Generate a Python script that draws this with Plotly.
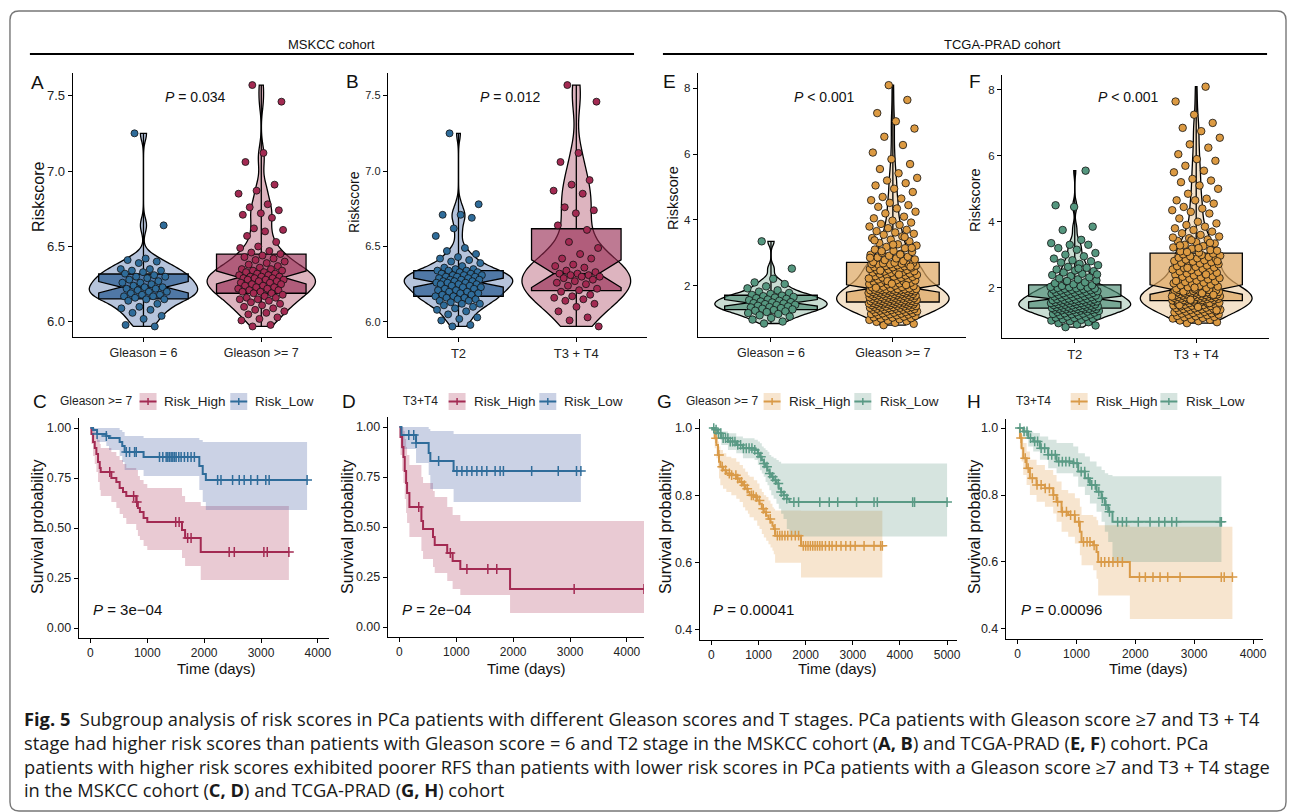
import numpy as np
import plotly.graph_objects as go

W, H = 1292, 812
FONT = "Liberation Sans, Arial, sans-serif"

# ------------------------------------------------------------------ data
# --- violin / box panels (risk scores) ---
A_cats = ["Gleason = 6", "Gleason >= 7"]
B_cats = ["T2", "T3 + T4"]
E_cats = ["Gleason = 6", "Gleason >= 7"]
F_cats = ["T2", "T3 + T4"]

A_low = [7.25, 6.64, 6.42, 6.41, 6.40, 6.39, 6.35, 6.35, 6.34, 6.34, 6.33, 6.32, 6.31, 6.30, 6.30, 6.29,
         6.28, 6.27, 6.26, 6.26, 6.25, 6.24, 6.23, 6.23, 6.22, 6.22, 6.21, 6.20, 6.20, 6.19, 6.18, 6.18,
         6.17, 6.17, 6.16, 6.15, 6.15, 6.14, 6.12, 6.10, 6.09, 6.08, 6.06, 6.04, 6.02, 5.98, 5.97]
A_high = [7.57, 7.46, 7.12, 7.06, 6.91, 6.87, 6.85, 6.78, 6.76, 6.74, 6.72, 6.71, 6.69, 6.62, 6.61, 6.60,
          6.57, 6.53, 6.50, 6.49, 6.47, 6.46, 6.45, 6.44, 6.43, 6.42, 6.41, 6.40, 6.39, 6.38, 6.37, 6.36,
          6.35, 6.35, 6.34, 6.34, 6.33, 6.33, 6.32, 6.32, 6.31, 6.31, 6.30, 6.30, 6.30, 6.29, 6.29, 6.29,
          6.28, 6.28, 6.28, 6.27, 6.27, 6.26, 6.26, 6.25, 6.25, 6.24, 6.24, 6.23, 6.23, 6.22, 6.22, 6.21,
          6.21, 6.20, 6.20, 6.19, 6.19, 6.18, 6.17, 6.16, 6.16, 6.15, 6.15, 6.14, 6.13, 6.12, 6.11, 6.10,
          6.09, 6.08, 6.07, 6.06, 6.05, 6.03, 6.02, 6.01, 5.98, 5.97]
B_low = [7.25, 6.78, 6.71, 6.71, 6.69, 6.62, 6.57, 6.49, 6.47, 6.45, 6.43, 6.42, 6.41, 6.40, 6.39, 6.37,
         6.36, 6.35, 6.35, 6.34, 6.34, 6.34, 6.33, 6.33, 6.32, 6.32, 6.31, 6.31, 6.31, 6.30, 6.30, 6.30,
         6.29, 6.29, 6.28, 6.28, 6.28, 6.27, 6.27, 6.27, 6.26, 6.26, 6.26, 6.25, 6.25, 6.25, 6.24, 6.24,
         6.23, 6.23, 6.22, 6.22, 6.21, 6.21, 6.20, 6.20, 6.19, 6.19, 6.18, 6.18, 6.17, 6.17, 6.16, 6.16,
         6.15, 6.15, 6.14, 6.14, 6.13, 6.12, 6.12, 6.11, 6.10, 6.09, 6.08, 6.07, 6.05, 6.03, 6.02, 6.01,
         5.98, 5.97]
B_high = [7.57, 7.46, 7.12, 7.06, 6.94, 6.91, 6.87, 6.85, 6.76, 6.74, 6.72, 6.64, 6.61, 6.53, 6.49, 6.45,
          6.42, 6.42, 6.38, 6.37, 6.36, 6.34, 6.33, 6.32, 6.32, 6.31, 6.31, 6.30, 6.30, 6.29, 6.28, 6.27,
          6.26, 6.25, 6.24, 6.22, 6.21, 6.20, 6.18, 6.17, 6.16, 6.15, 6.14, 6.12, 6.10, 6.07, 6.03, 6.01,
          5.97]
E_low = [3.35, 2.52, 2.21, 2.10, 2.05, 1.98, 1.92, 1.86, 1.82, 1.78, 1.75, 1.72, 1.70, 1.68, 1.66, 1.64,
         1.62, 1.60, 1.58, 1.56, 1.54, 1.52, 1.50, 1.49, 1.47, 1.46, 1.44, 1.42, 1.41, 1.39, 1.37, 1.35,
         1.34, 1.32, 1.30, 1.28, 1.26, 1.24, 1.22, 1.20, 1.17, 1.14, 1.10, 1.06, 1.02, 0.97, 0.91, 0.85]
E_high = [0.80, 0.84, 0.87, 0.90, 0.92, 0.94, 0.96, 0.98, 1.00, 1.01, 1.03, 1.04, 1.06, 1.07, 1.08, 1.10,
          1.11, 1.12, 1.13, 1.14, 1.15, 1.16, 1.17, 1.18, 1.19, 1.20, 1.21, 1.22, 1.23, 1.24, 1.25, 1.26,
          1.27, 1.27, 1.28, 1.29, 1.30, 1.30, 1.31, 1.32, 1.33, 1.33, 1.34, 1.35, 1.35, 1.36, 1.37, 1.37,
          1.38, 1.39, 1.39, 1.40, 1.41, 1.41, 1.42, 1.43, 1.43, 1.44, 1.44, 1.45, 1.45, 1.46, 1.46, 1.47,
          1.47, 1.48, 1.48, 1.49, 1.49, 1.50,
          1.51, 1.51, 1.52, 1.52, 1.53, 1.53, 1.54, 1.54, 1.55, 1.55, 1.56, 1.57, 1.57, 1.58, 1.58, 1.59,
          1.60, 1.60, 1.61, 1.61, 1.62, 1.63, 1.63, 1.64, 1.64, 1.65, 1.66, 1.66, 1.67, 1.67, 1.68, 1.69,
          1.69, 1.70, 1.71, 1.71, 1.72, 1.72, 1.73, 1.74, 1.74, 1.75, 1.75, 1.76, 1.77, 1.77, 1.78, 1.78,
          1.79, 1.80, 1.80, 1.81, 1.81, 1.82, 1.83, 1.83, 1.84, 1.84, 1.85, 1.86, 1.86, 1.87, 1.87, 1.88,
          1.88, 1.89, 1.89, 1.90, 1.90, 1.91,
          1.92, 1.93, 1.95, 1.96, 1.97, 1.99, 2.00, 2.01, 2.03, 2.04, 2.05, 2.07, 2.08, 2.09, 2.11, 2.12,
          2.13, 2.15, 2.16, 2.17, 2.19, 2.20, 2.21, 2.23, 2.24, 2.25, 2.27, 2.28, 2.29, 2.31, 2.32, 2.33,
          2.35, 2.36, 2.37, 2.39, 2.40, 2.41, 2.43, 2.44, 2.45, 2.47, 2.48, 2.49, 2.51, 2.52, 2.53, 2.55,
          2.56, 2.57, 2.59, 2.60, 2.61, 2.62, 2.63, 2.64, 2.65, 2.66, 2.67, 2.68, 2.69, 2.70, 1.94, 2.02,
          2.14, 2.22, 2.34, 2.46, 2.58, 2.06,
          2.72, 2.75, 2.78, 2.80, 2.83, 2.86, 2.88, 2.91, 2.94, 2.97, 3.00, 3.03, 3.06, 3.10, 3.14, 3.18,
          3.22, 3.26, 3.30, 3.35, 3.40, 3.45, 3.50, 3.55, 3.58, 3.62, 3.66, 3.70, 3.75, 3.80, 3.85, 3.88,
          3.92, 3.98, 4.05, 4.10, 4.20, 4.25, 4.35, 4.40, 4.45, 4.52, 4.60, 4.65, 4.70, 4.85, 4.95, 5.05,
          5.12, 5.20, 5.28, 5.42, 5.55, 5.70, 5.85, 6.05, 6.28, 6.53, 6.78, 7.00, 7.25, 7.65, 8.10, 2.85,
          2.95, 3.05, 3.15, 3.25, 3.38, 3.48]
F_low = [0.80, 0.85, 0.88, 0.92, 0.95, 0.98, 1.00, 1.02, 1.04, 1.06, 1.08, 1.09, 1.11, 1.12, 1.14, 1.15,
         1.16, 1.18, 1.19, 1.20, 1.21, 1.22, 1.24, 1.25, 1.26, 1.27, 1.28, 1.29, 1.30, 1.31, 1.32, 1.32,
         1.33, 1.34, 1.34, 1.35, 1.35, 1.36, 1.36, 1.37,
         1.38, 1.38, 1.39, 1.40, 1.40, 1.41, 1.42, 1.42, 1.43, 1.44, 1.45, 1.45, 1.46, 1.47, 1.47, 1.48,
         1.49, 1.50, 1.50, 1.51, 1.52, 1.53, 1.53, 1.54, 1.55, 1.56, 1.56, 1.57, 1.58, 1.58, 1.59, 1.60,
         1.60, 1.61, 1.62, 1.62, 1.63, 1.64, 1.64, 1.65,
         1.66, 1.67, 1.68, 1.69, 1.70, 1.71, 1.72, 1.73, 1.74, 1.75, 1.76, 1.77, 1.78, 1.79, 1.80, 1.81,
         1.82, 1.83, 1.84, 1.85, 1.86, 1.87, 1.88, 1.89, 1.90, 1.91, 1.92, 1.93, 1.94, 1.95, 1.96, 1.97,
         1.98, 1.99, 2.00, 2.01, 2.02, 2.04, 2.05, 2.07,
         2.10, 2.13, 2.16, 2.19, 2.22, 2.25, 2.28, 2.31, 2.35, 2.38, 2.42, 2.46, 2.50, 2.52, 2.55, 2.60,
         2.63, 2.68, 2.72, 2.76, 2.80, 2.83, 2.88, 2.95, 3.00, 3.05, 3.15, 3.20, 3.30, 3.30, 3.35, 3.45,
         3.75, 3.85, 4.45, 4.50, 5.55, 2.20, 2.40, 2.58]
F_high = [0.92, 0.95, 0.98, 1.00, 1.02, 1.04, 1.06, 1.08, 1.10, 1.11, 1.13, 1.14, 1.16, 1.17, 1.18, 1.20,
          1.21, 1.22, 1.23, 1.25, 1.26, 1.27, 1.28, 1.29, 1.30, 1.31, 1.32, 1.33, 1.34, 1.35, 1.36, 1.37,
          1.38, 1.39, 1.40, 1.41, 1.42, 1.43, 1.44, 1.45, 1.46, 1.47, 1.48, 1.49, 1.50, 1.51, 1.52, 1.53,
          1.54, 1.55, 1.56, 1.57, 1.58, 1.59, 1.59, 1.60, 1.31, 1.41, 1.47, 1.53,
          1.61, 1.61, 1.62, 1.62, 1.63, 1.64, 1.64, 1.65, 1.66, 1.66, 1.67, 1.67, 1.68, 1.69, 1.69, 1.70,
          1.71, 1.71, 1.72, 1.72, 1.73, 1.74, 1.74, 1.75, 1.76, 1.76, 1.77, 1.77, 1.78, 1.79, 1.79, 1.80,
          1.81, 1.81, 1.82, 1.82, 1.83, 1.84, 1.84, 1.85, 1.86, 1.86, 1.87, 1.87, 1.88, 1.89, 1.89, 1.90,
          1.90, 1.91, 1.91, 1.92, 1.92, 1.93, 1.93, 1.63, 1.73, 1.83, 1.88, 1.78,
          1.95, 1.97, 1.99, 2.01, 2.03, 2.05, 2.07, 2.09, 2.11, 2.13, 2.15, 2.17, 2.19, 2.21, 2.23, 2.25,
          2.27, 2.29, 2.31, 2.33, 2.35, 2.37, 2.39, 2.41, 2.43, 2.45, 2.47, 2.49, 2.51, 2.53, 2.55, 2.57,
          2.59, 2.61, 2.63, 2.65, 2.67, 2.69, 2.71, 2.73, 2.75, 2.77, 2.79, 2.81, 2.83, 2.85, 2.87, 2.89,
          2.91, 2.93, 2.95, 2.97, 2.99, 3.01, 3.03, 2.00, 2.20, 2.40, 2.60, 2.80,
          3.06, 3.10, 3.14, 3.18, 3.22, 3.26, 3.30, 3.34, 3.38, 3.42, 3.46, 3.50, 3.55, 3.60, 3.65, 3.70,
          3.75, 3.80, 3.85, 3.90, 3.95, 4.00, 4.10, 4.25, 4.30, 4.35, 4.40, 4.45, 4.55, 4.65, 4.65, 4.70,
          4.85, 5.00, 5.10, 5.20, 5.25, 5.30, 5.50, 5.55, 5.70, 5.85, 5.90, 6.05, 6.25, 6.35, 6.55, 6.75,
          6.85, 7.00, 7.25, 7.65, 8.10, 3.08, 3.12, 3.20, 3.28, 3.36, 3.44, 3.52]

A_p = "<i>P</i> = 0.034"
B_p = "<i>P</i> = 0.012"
E_p = "<i>P</i> < 0.001"
F_p = "<i>P</i> < 0.001"

# --- Kaplan-Meier panels: step times, survival, CI lower / upper, censor times (last = end of follow-up) ---
C_hi_t = [0, 18, 47, 76, 105, 134, 164, 181, 368, 456, 514, 573, 631, 806, 835, 870, 935, 1000, 1610, 1665, 1940]
C_hi_s = [1.0, 0.97, 0.93, 0.90, 0.87, 0.83, 0.80, 0.78, 0.75, 0.73, 0.70, 0.68, 0.66, 0.63, 0.60, 0.58, 0.55, 0.53, 0.49, 0.45, 0.38]
C_hi_lo = [1.0, 0.92, 0.86, 0.82, 0.78, 0.73, 0.69, 0.66, 0.63, 0.60, 0.57, 0.55, 0.52, 0.49, 0.46, 0.44, 0.41, 0.39, 0.35, 0.31, 0.24]
C_hi_up = [1.0, 1.0, 1.0, 0.98, 0.96, 0.94, 0.92, 0.90, 0.88, 0.86, 0.84, 0.82, 0.80, 0.79, 0.76, 0.74, 0.72, 0.70, 0.66, 0.63, 0.61]
C_hi_cens = [340, 760, 815, 1500, 1560, 1710, 1770, 2440, 2530, 3050, 3110, 3490]
C_lo_t = [0, 47, 117, 280, 327, 514, 560, 602, 935, 1915, 1975, 2030]
C_lo_s = [1.0, 0.99, 0.97, 0.96, 0.95, 0.93, 0.91, 0.88, 0.855, 0.81, 0.77, 0.74]
C_lo_lo = [1.0, 0.97, 0.93, 0.91, 0.89, 0.86, 0.83, 0.79, 0.76, 0.69, 0.63, 0.59]
C_lo_up = [1.0, 1.0, 1.0, 1.0, 1.0, 0.99, 0.98, 0.96, 0.95, 0.94, 0.93, 0.93]
C_lo_cens = [117, 280, 631, 689, 777, 806, 1215, 1273, 1332, 1361, 1390, 1420, 1449, 1478, 1507, 1554, 1595,
             1653, 1711, 1770, 1828, 2237, 2296, 2500, 2617, 2704, 2821, 2938, 3084, 3143, 3810]

D_hi_t = [0, 18, 47, 70, 93, 117, 134, 175, 386, 415, 590, 620, 840, 935, 1070, 1945]
D_hi_s = [1.0, 0.95, 0.90, 0.85, 0.78, 0.72, 0.67, 0.60, 0.53, 0.49, 0.45, 0.41, 0.37, 0.33, 0.29, 0.19]
D_hi_lo = [1.0, 0.86, 0.78, 0.72, 0.64, 0.57, 0.52, 0.45, 0.38, 0.34, 0.30, 0.27, 0.23, 0.19, 0.16, 0.07]
D_hi_up = [1.0, 1.0, 1.0, 0.98, 0.94, 0.90, 0.86, 0.81, 0.75, 0.72, 0.68, 0.65, 0.60, 0.56, 0.53, 0.53]
D_hi_cens = [339, 894, 1186, 1554, 1711, 3072, 4300]
D_lo_t = [0, 35, 292, 514, 543, 952]
D_lo_s = [1.0, 0.96, 0.92, 0.87, 0.83, 0.78]
D_lo_lo = [1.0, 0.89, 0.82, 0.76, 0.69, 0.625]
D_lo_up = [1.0, 1.0, 1.0, 0.99, 0.98, 0.965]
D_lo_cens = [164, 251, 292, 689, 1010, 1098, 1186, 1273, 1361, 1449, 1536, 1682, 1770, 1828, 2325, 2792, 3113, 3190]

G_hi_t = [0, 70, 106, 141, 162, 190, 246, 317, 423, 528, 599, 669, 718, 775, 810, 901, 972, 1021, 1070,
          1113, 1162, 1211, 1254, 1296, 1324, 1352, 1901]
G_hi_s = [1.0, 0.97, 0.95, 0.92, 0.90, 0.885, 0.875, 0.865, 0.86, 0.85, 0.84, 0.83, 0.82, 0.81, 0.80, 0.795,
          0.785, 0.775, 0.76, 0.75, 0.74, 0.73, 0.72, 0.71, 0.70, 0.68, 0.65]
G_hi_lo = [1.0, 0.94, 0.91, 0.88, 0.85, 0.83, 0.82, 0.81, 0.80, 0.79, 0.78, 0.765, 0.755, 0.745, 0.735, 0.725,
           0.71, 0.70, 0.685, 0.675, 0.665, 0.655, 0.645, 0.635, 0.625, 0.60, 0.556]
G_hi_up = [1.0, 0.99, 0.98, 0.96, 0.945, 0.935, 0.925, 0.915, 0.91, 0.90, 0.89, 0.88, 0.87, 0.86, 0.855, 0.845,
           0.835, 0.82, 0.81, 0.80, 0.795, 0.785, 0.775, 0.765, 0.76, 0.755, 0.754]
G_hi_cens = [100, 160, 230, 300, 380, 430, 520, 560, 640, 700, 760, 850, 890, 950, 1020, 1100, 1160, 1250, 1350,
             1400, 1450, 1500, 1560, 1620, 1700, 1780, 1850, 1950, 2000, 2050, 2100, 2150, 2200, 2250, 2300,
             2350, 2420, 2500, 2560, 2650, 2750, 2852, 2950, 3050, 3239, 3450, 3591, 3627]
G_lo_t = [0, 70, 141, 211, 352, 528, 669, 915, 986, 1030, 1070, 1110, 1150, 1190, 1230, 1270, 1320, 1380, 1430,
          1480, 1530, 1600, 1655]
G_lo_s = [1.0, 0.995, 0.985, 0.97, 0.96, 0.95, 0.94, 0.935, 0.925, 0.915, 0.905, 0.895, 0.885, 0.875, 0.865,
          0.855, 0.845, 0.835, 0.82, 0.81, 0.80, 0.79, 0.78]
G_lo_lo = [1.0, 0.985, 0.97, 0.95, 0.935, 0.925, 0.91, 0.905, 0.89, 0.875, 0.865, 0.855, 0.84, 0.83, 0.815,
           0.80, 0.79, 0.775, 0.76, 0.745, 0.73, 0.70, 0.678]
G_lo_up = [1.0, 1.0, 1.0, 0.99, 0.985, 0.975, 0.97, 0.965, 0.96, 0.955, 0.945, 0.94, 0.935, 0.93, 0.92, 0.915,
           0.91, 0.905, 0.90, 0.895, 0.895, 0.895, 0.895]
G_lo_cens = [50, 100, 150, 200, 250, 300, 350, 400, 450, 500, 560, 620, 680, 740, 800, 860, 920, 990, 1050, 1120,
             1180, 1240, 1300, 1360, 1420, 1480, 1540, 1600, 1750, 1850, 2300, 2500, 2680, 3080, 3450, 3520,
             4270, 4310, 5000]

H_hi_t = [0, 40, 68, 96, 153, 209, 322, 464, 605, 662, 747, 860, 973, 1058, 1086, 1284, 1341, 1369, 1907]
H_hi_s = [1.0, 0.97, 0.94, 0.91, 0.88, 0.85, 0.83, 0.82, 0.80, 0.78, 0.75, 0.74, 0.72, 0.69, 0.66, 0.65, 0.63, 0.60, 0.555]
H_hi_lo = [1.0, 0.94, 0.90, 0.86, 0.83, 0.80, 0.78, 0.765, 0.745, 0.72, 0.69, 0.675, 0.655, 0.62, 0.59, 0.575, 0.55, 0.50, 0.43]
H_hi_up = [1.0, 1.0, 0.98, 0.955, 0.93, 0.905, 0.89, 0.875, 0.86, 0.84, 0.815, 0.805, 0.79, 0.765, 0.74, 0.735, 0.725, 0.71, 0.705]
H_hi_cens = [60, 130, 180, 250, 330, 400, 470, 540, 610, 680, 760, 830, 900, 970, 1040, 1120, 1180, 1230, 1300,
             1420, 1480, 1550, 1620, 1700, 1780, 2070, 2170, 2300, 2420, 2550, 2760, 3460, 3510, 3649]
H_lo_t = [0, 96, 181, 266, 379, 520, 662, 945, 1030, 1143, 1228, 1341, 1426, 1482, 1539, 1612]
H_lo_s = [1.0, 0.99, 0.97, 0.96, 0.94, 0.92, 0.90, 0.895, 0.87, 0.85, 0.83, 0.81, 0.79, 0.77, 0.75, 0.72]
H_lo_lo = [1.0, 0.975, 0.945, 0.93, 0.905, 0.88, 0.865, 0.855, 0.825, 0.80, 0.775, 0.75, 0.72, 0.69, 0.66, 0.60]
H_lo_up = [1.0, 1.0, 0.99, 0.985, 0.975, 0.965, 0.955, 0.945, 0.925, 0.915, 0.90, 0.885, 0.875, 0.865, 0.86, 0.856]
H_lo_cens = [40, 110, 160, 220, 290, 340, 400, 460, 520, 580, 640, 700, 760, 820, 880, 950, 1010, 1080, 1140,
             1200, 1260, 1320, 1380, 1440, 1500, 1560, 1700, 1780, 1850, 2050, 2250, 2400, 2500, 2620, 2700,
             3440, 3462]

C_p = "<i>P</i> = 3e\u221204"
D_p = "<i>P</i> = 2e\u221204"
G_p = "<i>P</i> = 0.00041"
H_p = "<i>P</i> = 0.00096"
C_legend_title = "Gleason >= 7"
D_legend_title = "T3+T4"
G_legend_title = "Gleason >= 7"
H_legend_title = "T3+T4"
legend_labels = ["Risk_High", "Risk_Low"]
km_x_ticks = [0, 1000, 2000, 3000, 4000]
km_x_ticks_G = [0, 1000, 2000, 3000, 4000, 5000]

CAPTION = [
    "<b>Fig. 5</b>  Subgroup analysis of risk scores in PCa patients with different Gleason scores and T stages. PCa patients with Gleason score \u22657 and T3 + T4",
    "stage had higher risk scores than patients with Gleason score = 6 and T2 stage in the MSKCC cohort (<b>A, B</b>) and TCGA-PRAD (<b>E, F</b>) cohort. PCa",
    "patients with higher risk scores exhibited poorer RFS than patients with lower risk scores in PCa patients with a Gleason score \u22657 and T3 + T4 stage",
    "in the MSKCC cohort (<b>C, D</b>) and TCGA-PRAD (<b>G, H</b>) cohort",
]

# ------------------------------------------------------------------ styles
BLUE = dict(violin="#b6c4dc", box="rgba(40,90,145,0.72)", point="#2f6c9a", line="#2f6c9a",
            band="rgba(70,95,160,0.28)")
RED = dict(violin="#ddb4bf", box="rgba(150,40,80,0.62)", point="#a32a52", line="#a32a52",
           band="rgba(170,50,85,0.26)")
GREEN = dict(violin="#c9ddd3", box="rgba(75,140,115,0.65)", point="#55977f", line="#5a9a85",
             band="rgba(95,150,130,0.26)")
ORANGE = dict(violin="#f4e2ca", box="rgba(222,168,100,0.72)", point="#dc9a42", line="#d99a48",
              band="rgba(228,170,95,0.30)")


def px(x):
    return x / W


def py(y):
    return 1 - y / H


fig = go.Figure()
layout = dict(width=W, height=H, margin=dict(l=0, r=0, t=0, b=0), paper_bgcolor="white",
              plot_bgcolor="rgba(0,0,0,0)", showlegend=False, violinmode="overlay", boxmode="overlay",
              font=dict(family=FONT, color="#222"))
annotations = []
shapes = []


def ann(x, y, text, size, xanchor="center", yanchor="middle", angle=0, color="#111", family=FONT, align="center"):
    annotations.append(dict(x=px(x), y=py(y), xref="paper", yref="paper", text=text, showarrow=False,
                            xanchor=xanchor, yanchor=yanchor, textangle=angle, align=align,
                            font=dict(size=size, color=color, family=family)))


def make_axes(i, xpx, ypx, xrange, yrange, xkw, ykw):
    xn = "xaxis" if i == 1 else f"xaxis{i}"
    yn = "yaxis" if i == 1 else f"yaxis{i}"
    xa = "x" if i == 1 else f"x{i}"
    ya = "y" if i == 1 else f"y{i}"
    common = dict(showgrid=False, zeroline=False, showline=True, linecolor="black", linewidth=1.1,
                  ticks="outside", ticklen=4, tickwidth=1, tickcolor="black", fixedrange=True)
    layout[xn] = dict(domain=[px(xpx[0]), px(xpx[1])], range=xrange, anchor=ya, **common, **xkw)
    layout[yn] = dict(domain=[py(ypx[1]), py(ypx[0])], range=yrange, anchor=xa, **common, **ykw)
    return xa, ya


def nrd0(v):
    v = np.asarray(v, dtype=float)
    iqr = np.subtract(*np.percentile(v, [75, 25]))
    return 0.9 * min(v.std(ddof=1), iqr / 1.34) * len(v) ** -0.2


def jitter_offsets(n, half):
    # deterministic low-discrepancy horizontal spread (position only)
    k = np.arange(n)
    return ((k * 0.6180339887 + 0.31) % 1.0 - 0.5) * 2 * half


def violin_panel(i, geo, cats, groups, styles, yrange, ytickvals, ytickfmt, tickfont_y, tickfont_x, msize):
    xa, ya = make_axes(i, geo[0], geo[1], [-0.6, 1.6], yrange,
                       dict(tickvals=[0, 1], ticktext=cats, tickfont=dict(size=tickfont_x, color="#222")),
                       dict(tickvals=ytickvals, tickformat=ytickfmt, tickfont=dict(size=tickfont_y, color="#222")))
    for pos, (vals, st) in enumerate(zip(groups, styles)):
        fig.add_trace(go.Violin(x=[pos] * len(vals), y=vals, xaxis=xa, yaxis=ya, width=0.92,
                                fillcolor=st["violin"], line=dict(color="black", width=1.3), points=False,
                                spanmode="hard", scalemode="width", bandwidth=nrd0(vals),
                                box_visible=False, meanline_visible=False, hoverinfo="skip", opacity=1))
    for pos, (vals, st) in enumerate(zip(groups, styles)):
        fig.add_trace(go.Box(x=[pos] * len(vals), y=vals, xaxis=xa, yaxis=ya, width=0.76, notched=True,
                             notchwidth=0.25, fillcolor=st["box"], line=dict(color="black", width=1.3),
                             boxpoints=False, whiskerwidth=0, hoverinfo="skip"))
    for pos, (vals, st) in enumerate(zip(groups, styles)):
        xs = pos + jitter_offsets(len(vals), 0.2)
        fig.add_trace(go.Scatter(x=xs, y=vals, xaxis=xa, yaxis=ya, mode="markers", hoverinfo="skip",
                                 marker=dict(color=st["point"], size=msize,
                                             line=dict(color="#111", width=0.8))))


violin_panel(1, ([73, 333], [73, 337]), A_cats, [A_low, A_high], [BLUE, RED], [5.90, 7.65],
             [6.0, 6.5, 7.0, 7.5], ".1f", 13, 12.5, 7)
violin_panel(2, ([389, 649], [73, 337]), B_cats, [B_low, B_high], [BLUE, RED], [5.90, 7.65],
             [6.0, 6.5, 7.0, 7.5], ".1f", 11, 13, 7)
violin_panel(3, ([700, 969], [73, 337]), E_cats, [E_low, E_high], [GREEN, ORANGE], [0.44, 8.47],
             [2, 4, 6, 8], "d", 11.5, 12.5, 7.5)
violin_panel(4, ([1005, 1273], [75, 338]), F_cats, [F_low, F_high], [GREEN, ORANGE], [0.47, 8.455],
             [2, 4, 6, 8], "d", 11.5, 13, 7.5)


def km_curve(xa, ya, t, s, lo, up, cens, st):
    end = cens[-1]
    tt = list(t) + [end]
    fig.add_trace(go.Scatter(x=tt, y=list(lo) + [lo[-1]], xaxis=xa, yaxis=ya, mode="lines",
                             line=dict(width=0, shape="hv", color=st["band"]), hoverinfo="skip"))
    fig.add_trace(go.Scatter(x=tt, y=list(up) + [up[-1]], xaxis=xa, yaxis=ya, mode="lines", fill="tonexty",
                             fillcolor=st["band"], line=dict(width=0, shape="hv", color=st["band"]),
                             hoverinfo="skip"))


def km_line(xa, ya, t, s, cens, st):
    end = cens[-1]
    fig.add_trace(go.Scatter(x=list(t) + [end], y=list(s) + [s[-1]], xaxis=xa, yaxis=ya, mode="lines",
                             line=dict(width=2, shape="hv", color=st["line"]), hoverinfo="skip"))
    idx = np.searchsorted(np.asarray(t), np.asarray(cens), side="right") - 1
    cy = [s[k] for k in idx]
    fig.add_trace(go.Scatter(x=cens, y=cy, xaxis=xa, yaxis=ya, mode="markers", hoverinfo="skip",
                             marker=dict(symbol="cross-thin", size=7, color=st["line"],
                                         line=dict(color=st["line"], width=1.5))))


def km_panel(i, geo, xrange, yrange, xticks, yticks, yfmt, hi, lo_, styles):
    xa, ya = make_axes(i, geo[0], geo[1], xrange, yrange,
                       dict(tickvals=xticks, tickfont=dict(size=12, color="#222")),
                       dict(tickvals=yticks, tickformat=yfmt, tickfont=dict(size=12.5, color="#222")))
    km_curve(xa, ya, *hi[:4], hi[4], styles[0])
    km_curve(xa, ya, *lo_[:4], lo_[4], styles[1])
    km_line(xa, ya, hi[0], hi[1], hi[4], styles[0])
    km_line(xa, ya, lo_[0], lo_[1], lo_[4], styles[1])


km_panel(5, ([79, 330], [418, 638]), [-205, 4195], [-0.05, 1.05], km_x_ticks, [0, 0.25, 0.5, 0.75, 1.0], ".2f",
         (C_hi_t, C_hi_s, C_hi_lo, C_hi_up, C_hi_cens), (C_lo_t, C_lo_s, C_lo_lo, C_lo_up, C_lo_cens), [RED, BLUE])
km_panel(6, ([389, 646], [417, 637]), [-205, 4300], [-0.05, 1.05], km_x_ticks, [0, 0.25, 0.5, 0.75, 1.0], ".2f",
         (D_hi_t, D_hi_s, D_hi_lo, D_hi_up, D_hi_cens), (D_lo_t, D_lo_s, D_lo_lo, D_lo_up, D_lo_cens), [RED, BLUE])
km_panel(7, ([702, 960], [419, 640]), [-245, 5211], [0.37, 1.027], km_x_ticks_G, [0.4, 0.6, 0.8, 1.0], ".1f",
         (G_hi_t, G_hi_s, G_hi_lo, G_hi_up, G_hi_cens), (G_lo_t, G_lo_s, G_lo_lo, G_lo_up, G_lo_cens), [ORANGE, GREEN])
km_panel(8, ([1009, 1267], [419, 639]), [-199, 4170], [0.37, 1.027], km_x_ticks, [0.4, 0.6, 0.8, 1.0], ".1f",
         (H_hi_t, H_hi_s, H_hi_lo, H_hi_up, H_hi_cens), (H_lo_t, H_lo_s, H_lo_lo, H_lo_up, H_lo_cens), [ORANGE, GREEN])

# ------------------------------------------------------------------ text & decorations
for letter, (x, y) in {"A": (38, 82), "B": (354, 81), "E": (672, 81), "F": (978, 81),
                       "C": (40, 401), "D": (350, 401), "G": (667, 401), "H": (977, 401)}.items():
    ann(x, y, letter, 19)

ann(38, 197, "Riskscore", 16, angle=-90)
ann(355, 202, "Riskscore", 14, angle=-90)
ann(675, 198, "Riskscore", 14.5, angle=-90)
ann(978, 200, "Riskscore", 14.5, angle=-90)
ann(196, 97, A_p, 14)
ann(512, 97, B_p, 14)
ann(827, 97, E_p, 14)
ann(1132, 97, F_p, 14)

for xc, yl in [(217, 37), (528, 348), (840, 667), (1152, 977)]:
    ann(xc, 668, "Time (days)", 15)
    ann(yl, 527, "Survival probability", 16, angle=-90)
ann(91, 609, C_p, 15, xanchor="left")
ann(401, 609, D_p, 15, xanchor="left")
ann(713, 609, G_p, 15, xanchor="left")
ann(1022, 609, H_p, 15, xanchor="left")


def km_legend(title, tx, keys, styles):
    ann(tx, 401, title, 12, xanchor="left", color="#222")
    for (kx, lx), st, lab in zip(keys, styles, legend_labels):
        shapes.append(dict(type="rect", xref="paper", yref="paper", x0=px(kx), x1=px(kx + 17), y0=py(410),
                           y1=py(393), fillcolor=st["band"], line=dict(width=0)))
        shapes.append(dict(type="line", xref="paper", yref="paper", x0=px(kx), x1=px(kx + 17), y0=py(401.5),
                           y1=py(401.5), line=dict(color=st["line"], width=2)))
        shapes.append(dict(type="line", xref="paper", yref="paper", x0=px(kx + 8.5), x1=px(kx + 8.5),
                           y0=py(398), y1=py(405), line=dict(color=st["line"], width=1.5)))
        ann(lx, 401, lab, 13.5, xanchor="left", color="#222")


km_legend(C_legend_title, 58, [(140, 163), (231, 254)], [RED, BLUE])
km_legend(D_legend_title, 402, [(450, 473), (541, 564)], [RED, BLUE])
km_legend(G_legend_title, 686, [(766, 789), (857, 881)], [ORANGE, GREEN])
km_legend(H_legend_title, 1017, [(1074, 1097), (1164, 1188)], [ORANGE, GREEN])

ann(333, 45, "MSKCC cohort", 13)
ann(1006, 45, "TCGA-PRAD cohort", 13)
shapes.append(dict(type="line", xref="paper", yref="paper", x0=px(30), x1=px(636), y0=py(54), y1=py(54),
                   line=dict(color="black", width=2)))
shapes.append(dict(type="line", xref="paper", yref="paper", x0=px(665), x1=px(1271), y0=py(54), y1=py(54),
                   line=dict(color="black", width=2)))

x0, x1, y0, y1, r = 10, 1290, 11, 811, 9
path = (f"M {px(x0 + r)} {py(y0)} L {px(x1 - r)} {py(y0)} Q {px(x1)} {py(y0)} {px(x1)} {py(y0 + r)} "
        f"L {px(x1)} {py(y1 - r)} Q {px(x1)} {py(y1)} {px(x1 - r)} {py(y1)} "
        f"L {px(x0 + r)} {py(y1)} Q {px(x0)} {py(y1)} {px(x0)} {py(y1 - r)} "
        f"L {px(x0)} {py(y0 + r)} Q {px(x0)} {py(y0)} {px(x0 + r)} {py(y0)} Z")
shapes.append(dict(type="path", xref="paper", yref="paper", path=path, line=dict(color="#777", width=1.4)))

# caption as one multi-line text block
CAP_FONT = "Open Sans, Noto Sans, sans-serif"
ann(22, 754, "<br>".join(CAPTION), 18.3, xanchor="left", color="#1a1a1a", family=CAP_FONT, align="left")

layout["annotations"] = annotations
layout["shapes"] = shapes
fig.update_layout(**layout)
fig.write_html("out.html")
